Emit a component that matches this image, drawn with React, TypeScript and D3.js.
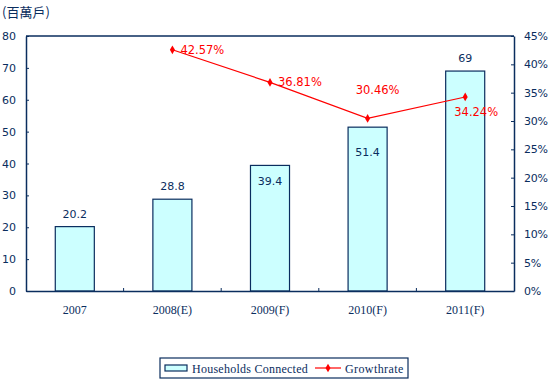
import React, { useEffect, useRef } from 'react';
import * as d3 from 'd3';

const categories = ['2007', '2008(E)', '2009(F)', '2010(F)', '2011(F)'];
const households = [20.2, 28.8, 39.4, 51.4, 69];
const growthYears = ['2008(E)', '2009(F)', '2010(F)', '2011(F)'];
const growth = [42.57, 36.81, 30.46, 34.24];
const leftTicks = [0, 10, 20, 30, 40, 50, 60, 70, 80];
const rightTicks = [0, 5, 10, 15, 20, 25, 30, 35, 40, 45];

const NAVY = '#0a2d5e';
const RED = '#ff0000';

const App: React.FC = () => {
  const svgRef = useRef<SVGSVGElement>(null);

  useEffect(() => {
    if (!svgRef.current) return;
    const root = d3.select(svgRef.current);
    root.selectAll('*').remove();

    const margin = { top: 36, right: 34, bottom: 96, left: 26 };
    const width = 548 - margin.left - margin.right;
    const height = 387 - margin.top - margin.bottom;

    const svg = root.append('g').attr('transform', `translate(${margin.left},${margin.top})`);

    const x = d3.scaleBand().domain(categories).range([0, width]).paddingInner(0.6).paddingOuter(0.3);
    const band = d3.scaleBand().domain(categories).range([0, width]);
    const y = d3.scaleLinear().domain([0, 80]).range([height, 0]);
    const y2 = d3.scaleLinear().domain([0, 45]).range([height, 0]);

    // Bars
    svg.selectAll('rect.bar')
      .data(households)
      .enter().append('rect')
      .attr('x', (d, i) => x(categories[i]) as number)
      .attr('y', d => y(d))
      .attr('width', x.bandwidth())
      .attr('height', d => height - y(d))
      .attr('fill', '#ccffff')
      .attr('stroke', NAVY)
      .attr('stroke-width', 1.2);

    // Bar value labels (some tucked inside to avoid the line)
    const inside: Record<number, number> = { 2: 16, 3: 25 };
    svg.selectAll('text.val')
      .data(households)
      .enter().append('text')
      .attr('x', (d, i) => (x(categories[i]) as number) + x.bandwidth() / 2)
      .attr('y', (d, i) => (i in inside ? y(d) + inside[i] + 4 : y(d) - 9))
      .attr('text-anchor', 'middle')
      .attr('font-family', 'DejaVu Sans, sans-serif')
      .attr('font-size', 11)
      .attr('fill', NAVY)
      .text(d => String(d));

    // Left axis
    const left = svg.append('g')
      .call(d3.axisLeft(y).tickValues(leftTicks).tickSizeInner(-3).tickSizeOuter(0).tickPadding(10));
    left.select('.domain').attr('stroke', NAVY).attr('stroke-width', 1.5);
    left.selectAll('line').attr('stroke', NAVY);
    left.selectAll('text').attr('font-family', 'DejaVu Sans, sans-serif').attr('font-size', 11).attr('fill', NAVY);

    // Right axis
    const right = svg.append('g')
      .attr('transform', `translate(${width},0)`)
      .call(d3.axisRight(y2).tickValues(rightTicks).tickFormat(d => `${d}%`).tickSizeInner(-3).tickSizeOuter(0).tickPadding(10));
    right.select('.domain').attr('stroke', NAVY).attr('stroke-width', 1.5);
    right.selectAll('line').attr('stroke', NAVY);
    right.selectAll('text').attr('font-family', 'DejaVu Sans, sans-serif').attr('font-size', 11).attr('fill', NAVY)
      .attr('letter-spacing', '-0.3');

    // Top border
    svg.append('line')
      .attr('x1', 0).attr('x2', width).attr('y1', 0).attr('y2', 0)
      .attr('stroke', NAVY).attr('stroke-width', 1.5);

    // Bottom axis
    const bottom = svg.append('g')
      .attr('transform', `translate(0,${height})`)
      .call(d3.axisBottom(band).tickSize(0).tickPadding(14));
    bottom.select('.domain').attr('stroke', NAVY).attr('stroke-width', 1.5);
    bottom.selectAll('text').attr('font-family', 'Liberation Serif, serif').attr('font-size', 12).attr('fill', NAVY);
    svg.selectAll('line.cat')
      .data(categories.slice(1))
      .enter().append('line')
      .attr('x1', d => band(d) as number)
      .attr('x2', d => band(d) as number)
      .attr('y1', height)
      .attr('y2', height - 3)
      .attr('stroke', NAVY);

    // Growth line
    const cx = (c: string) => (band(c) as number) + band.bandwidth() / 2;
    const line = d3.line<number>()
      .x((d, i) => cx(growthYears[i]))
      .y(d => y2(d));
    svg.append('path')
      .datum(growth)
      .attr('fill', 'none')
      .attr('stroke', RED)
      .attr('stroke-width', 1.2)
      .attr('d', line);

    svg.selectAll('path.mk')
      .data(growth)
      .enter().append('path')
      .attr('d', d3.symbol(d3.symbolDiamond, 22)() as string)
      .attr('transform', (d, i) => `translate(${cx(growthYears[i])},${y2(d)})`)
      .attr('fill', RED);

    const offsets = [[8, 4, 'start'], [8, 4, 'start'], [10, -24, 'middle'], [11, 19, 'middle']] as const;
    svg.selectAll('text.gl')
      .data(growth)
      .enter().append('text')
      .attr('x', (d, i) => cx(growthYears[i]) + offsets[i][0])
      .attr('y', (d, i) => y2(d) + offsets[i][1])
      .attr('text-anchor', (d, i) => offsets[i][2])
      .attr('font-family', 'DejaVu Sans, sans-serif')
      .attr('font-size', 11.5)
      .attr('fill', RED)
      .text(d => `${d.toFixed(2)}%`);

    // Y unit title
    root.append('text')
      .attr('x', 2).attr('y', 17)
      .attr('font-family', 'Noto Sans CJK TC, sans-serif')
      .attr('font-size', 13)
      .attr('fill', NAVY)
      .text('(百萬戶)');

    // Legend
    const lg = root.append('g').attr('transform', 'translate(160,358)');
    lg.append('rect').attr('width', 248).attr('height', 20).attr('fill', 'white').attr('stroke', NAVY).attr('stroke-width', 1.2);
    lg.append('rect').attr('x', 5).attr('y', 7).attr('width', 22).attr('height', 6)
      .attr('fill', '#ccffff').attr('stroke', NAVY).attr('stroke-width', 1.2);
    lg.append('text').attr('x', 32).attr('y', 14.5)
      .attr('font-family', 'Liberation Serif, serif').attr('font-size', 12).attr('fill', NAVY)
      .attr('letter-spacing', '0.25')
      .text('Households Connected');
    lg.append('line').attr('x1', 155).attr('x2', 181).attr('y1', 10).attr('y2', 10).attr('stroke', RED).attr('stroke-width', 1.2);
    lg.append('path').attr('d', d3.symbol(d3.symbolDiamond, 22)() as string)
      .attr('transform', 'translate(168,10)').attr('fill', RED);
    lg.append('text').attr('x', 185).attr('y', 14.5)
      .attr('font-family', 'Liberation Serif, serif').attr('font-size', 12).attr('fill', NAVY)
      .attr('letter-spacing', '0.4')
      .text('Growthrate');
  }, []);

  return <svg ref={svgRef} width={548} height={387} style={{ position: 'absolute', left: 0, top: 0 }}></svg>;
};

export default App;
